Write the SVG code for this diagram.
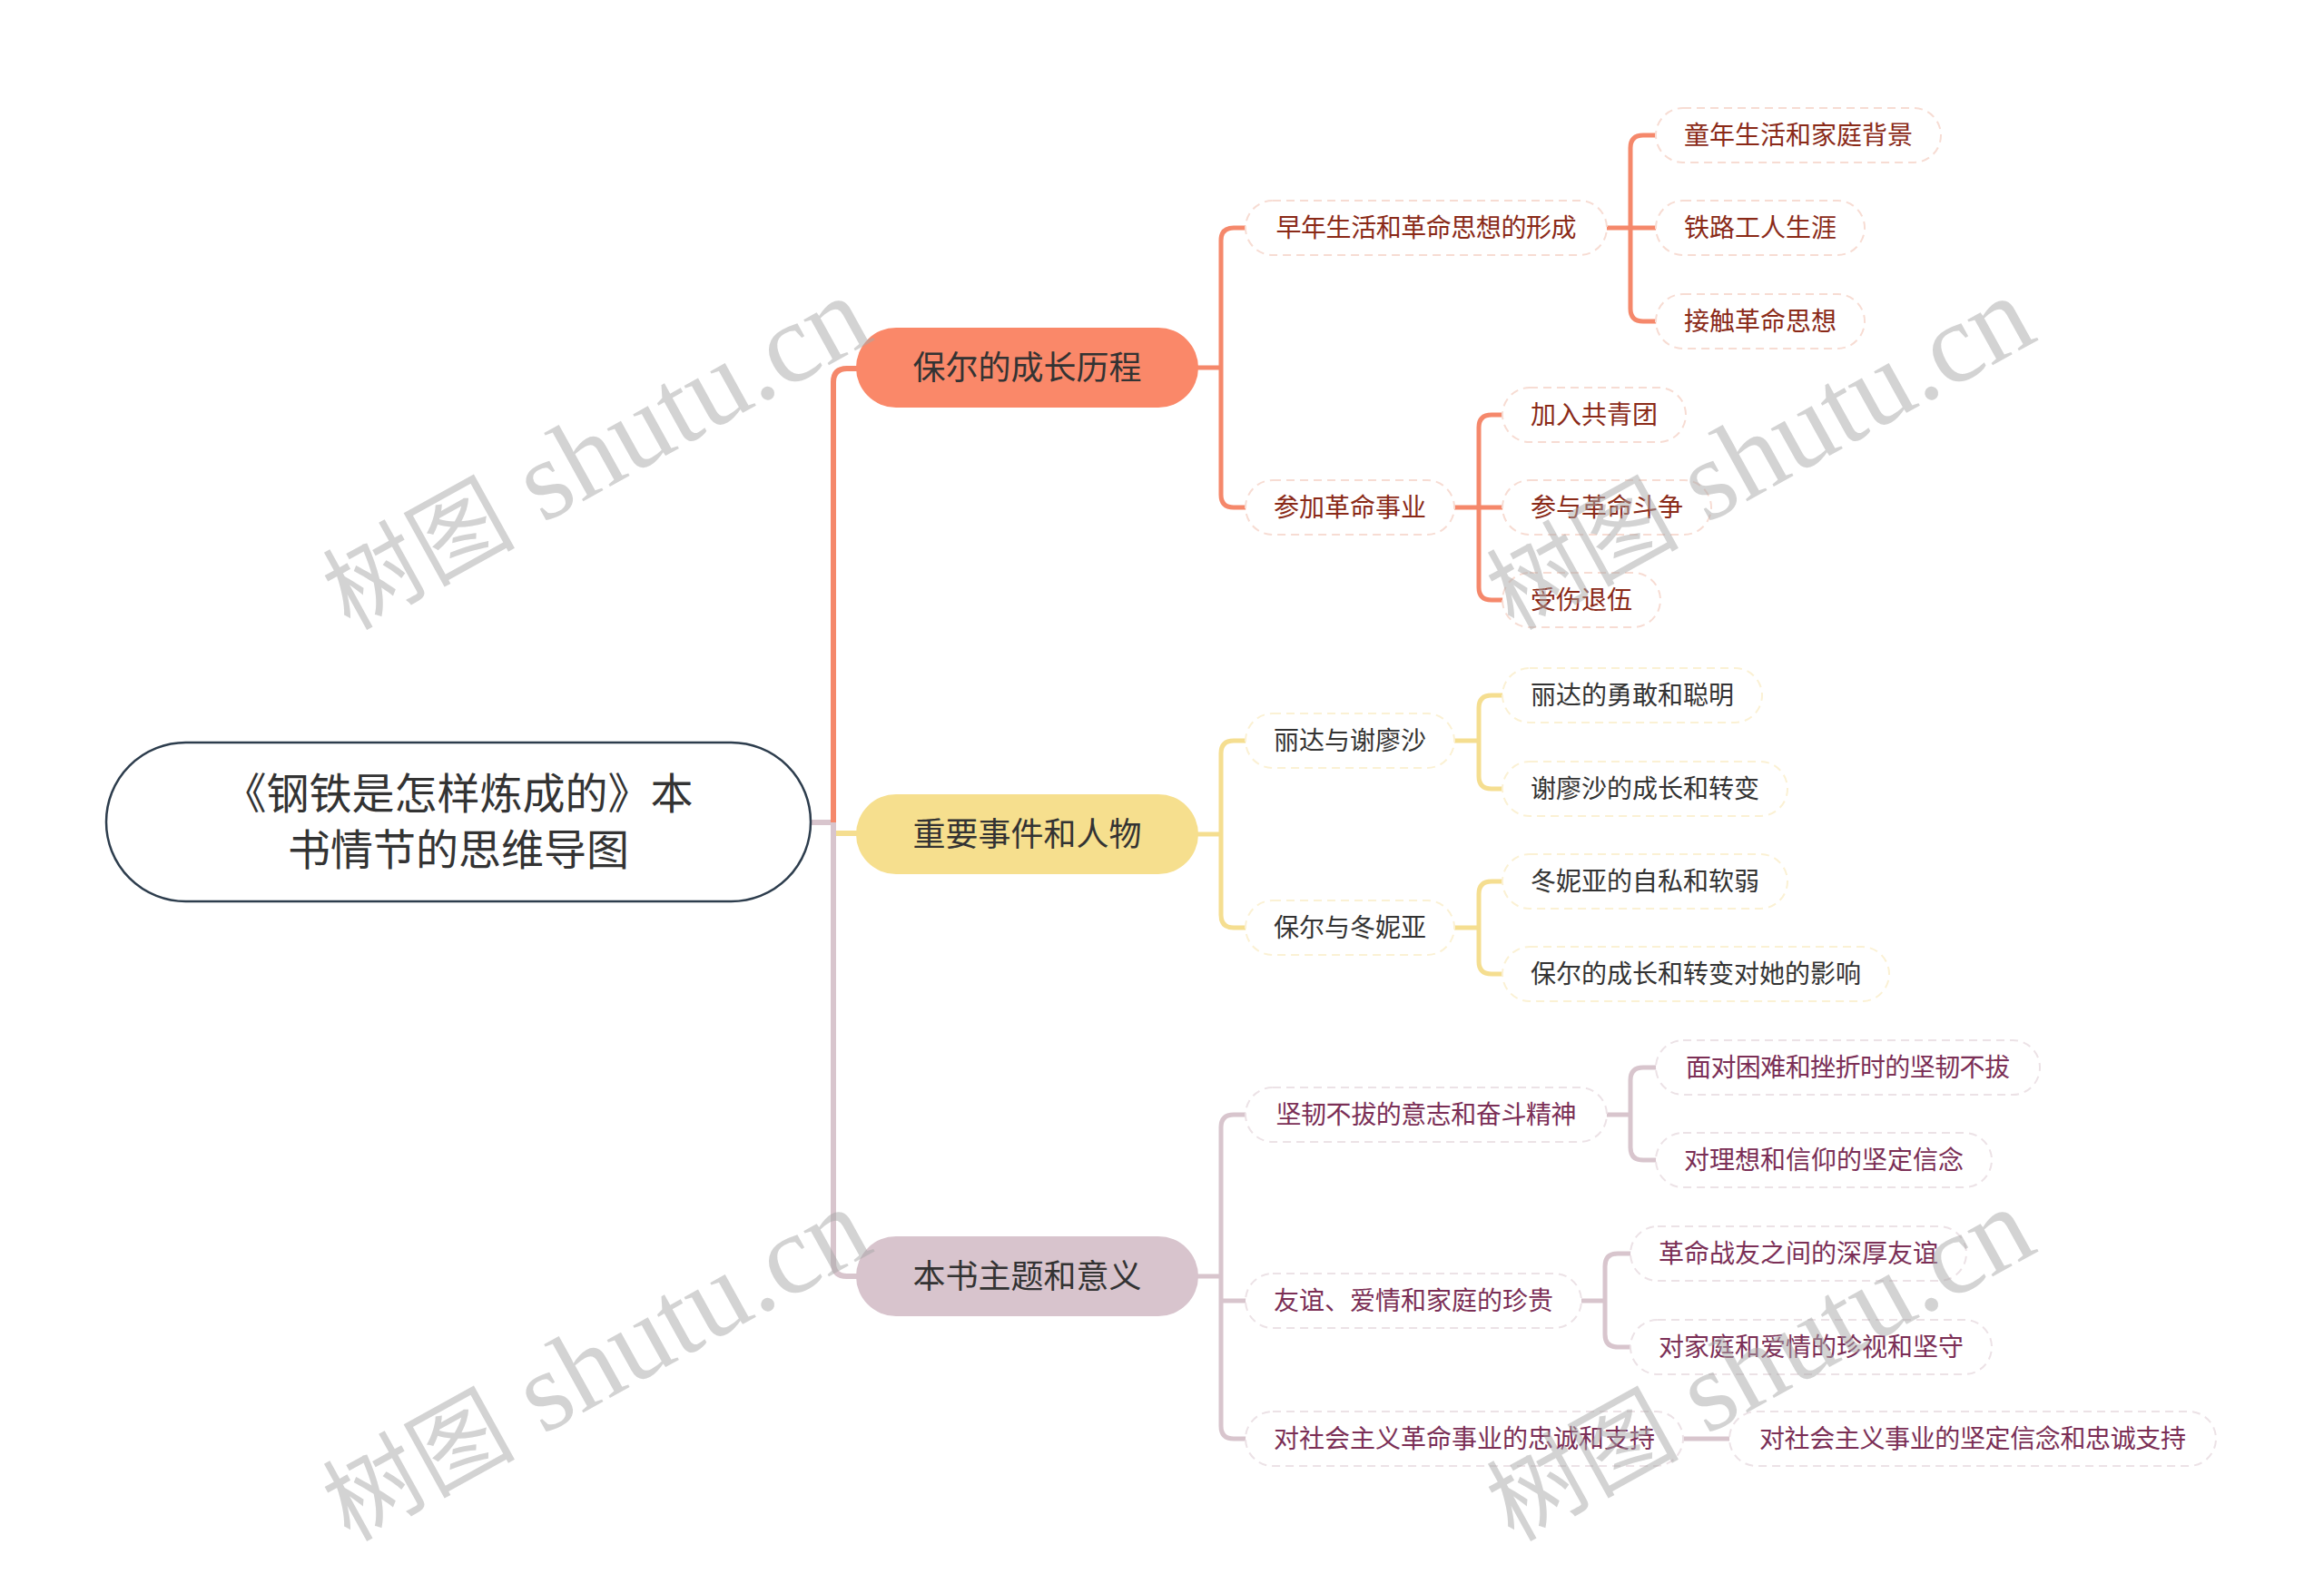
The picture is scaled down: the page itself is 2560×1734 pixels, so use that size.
<svg xmlns="http://www.w3.org/2000/svg" width="2560" height="1734" viewBox="0 0 2560 1734">
<defs>
<style>
text{font-family:'Liberation Sans','Noto Sans CJK SC',sans-serif;}
.root rect{fill:#fff;stroke:#2d3d4d;stroke-width:2.5}
.root text{font-size:47px;fill:#333;text-anchor:middle}
.l1 rect{stroke:none}
.l1 text{font-size:36px;fill:#333;text-anchor:middle}
.c1 rect{fill:#fa8869}
.c2 rect{fill:#f6df8e}
.c3 rect{fill:#d8c4cd}
.sub rect{fill:#fff;stroke-width:2;stroke-dasharray:9 6}
.sub text{font-size:28px;text-anchor:middle}
.s1 rect{stroke:#f7dcd3}
.s1 text{fill:#8a2a18}
.s2 rect{stroke:#fbf1d4}
.s2 text{fill:#333}
.s3 rect{stroke:#ece2e6}
.s3 text{fill:#7b2f56}
.conn path{fill:none;stroke-linecap:butt}
.k1{stroke:#f5886b}
.k2{stroke:#f5de90}
.k3{stroke:#d8c5cd}
text.wm{font-family:'Liberation Serif','Noto Sans CJK SC',serif;fill:#a8a8a8;opacity:0.5}
</style>
</defs>
<rect width="2560" height="1734" fill="#fff"/>
<g id="connectors" class="conn">
  <path class="k3" stroke-width="6" d="M893 906 H918"/>
  <path class="k1" stroke-width="6" d="M918 906 V421 Q918 406 933 406 H945"/>
  <path class="k2" stroke-width="6" d="M918 918 H945"/>
  <path class="k3" stroke-width="6" d="M918 906 V1391 Q918 1406 933 1406 H945"/>
  <path class="k1" stroke-width="5" d="M1318 405 H1345"/>
  <path class="k1" stroke-width="5" d="M1373 251 H1359 Q1345 251 1345 265 V545 Q1345 559 1359 559 H1373"/>
  <path class="k2" stroke-width="5" d="M1318 919 H1345"/>
  <path class="k2" stroke-width="5" d="M1373 816 H1359 Q1345 816 1345 830 V1008 Q1345 1022 1359 1022 H1373"/>
  <path class="k3" stroke-width="5" d="M1318 1406 H1345"/>
  <path class="k3" stroke-width="5" d="M1373 1228 H1359 Q1345 1228 1345 1242 V1571 Q1345 1585 1359 1585 H1373"/>
  <path class="k3" stroke-width="5" d="M1345 1433 H1373"/>
  <path class="k1" stroke-width="5" d="M1770 251 H1825"/>
  <path class="k1" stroke-width="5" d="M1825 149 H1810 Q1796 149 1796 163 V340 Q1796 354 1810 354 H1825"/>
  <path class="k1" stroke-width="5" d="M1602 559 H1656"/>
  <path class="k1" stroke-width="5" d="M1656 457 H1643 Q1629 457 1629 471 V647 Q1629 661 1643 661 H1656"/>
  <path class="k2" stroke-width="5" d="M1602 816 H1629"/>
  <path class="k2" stroke-width="5" d="M1656 766 H1643 Q1629 766 1629 780 V855 Q1629 869 1643 869 H1656"/>
  <path class="k2" stroke-width="5" d="M1602 1022 H1629"/>
  <path class="k2" stroke-width="5" d="M1656 971 H1643 Q1629 971 1629 985 V1059 Q1629 1073 1643 1073 H1656"/>
  <path class="k3" stroke-width="5" d="M1770 1228 H1796"/>
  <path class="k3" stroke-width="5" d="M1825 1176 H1810 Q1796 1176 1796 1190 V1264 Q1796 1278 1810 1278 H1825"/>
  <path class="k3" stroke-width="5" d="M1742 1433 H1768"/>
  <path class="k3" stroke-width="5" d="M1797 1381 H1782 Q1768 1381 1768 1395 V1470 Q1768 1484 1782 1484 H1797"/>
  <path class="k3" stroke-width="5" d="M1854 1585 H1905"/>
</g>
<g id="root" class="root">
  <rect x="117" y="818" width="776" height="175" rx="87.5"/>
  <text x="505" y="891">《钢铁是怎样炼成的》本</text>
  <text x="505" y="953">书情节的思维导图</text>
</g>
<g id="n-baoer" class="l1 c1"><rect x="943" y="361" width="377" height="88" rx="44"/><text x="1131.5" y="418">保尔的成长历程</text></g>
<g id="n-zhongyao" class="l1 c2"><rect x="943" y="875" width="377" height="88" rx="44"/><text x="1131.5" y="932">重要事件和人物</text></g>
<g id="n-benshu" class="l1 c3"><rect x="943" y="1362" width="377" height="88" rx="44"/><text x="1131.5" y="1419">本书主题和意义</text></g>

<g id="n-zaonian" class="sub s1"><rect x="1372" y="221" width="398" height="60" rx="30"/><text x="1571" y="261" textLength="331" lengthAdjust="spacing">早年生活和革命思想的形成</text></g>
<g id="n-tongnian" class="sub s1"><rect x="1824" y="119" width="314" height="60" rx="30"/><text x="1981" y="159">童年生活和家庭背景</text></g>
<g id="n-tielu" class="sub s1"><rect x="1824" y="221" width="230" height="60" rx="30"/><text x="1939" y="261">铁路工人生涯</text></g>
<g id="n-jiechu" class="sub s1"><rect x="1824" y="324" width="230" height="60" rx="30"/><text x="1939" y="364">接触革命思想</text></g>
<g id="n-canjia" class="sub s1"><rect x="1372" y="529" width="230" height="60" rx="30"/><text x="1487" y="569">参加革命事业</text></g>
<g id="n-jiaru" class="sub s1"><rect x="1655" y="427" width="202" height="60" rx="30"/><text x="1756" y="467">加入共青团</text></g>
<g id="n-canyu" class="sub s1"><rect x="1655" y="529" width="230" height="60" rx="30"/><text x="1770" y="569">参与革命斗争</text></g>
<g id="n-shoushang" class="sub s1"><rect x="1655" y="631" width="174" height="60" rx="30"/><text x="1742" y="671">受伤退伍</text></g>

<g id="n-lida" class="sub s2"><rect x="1372" y="786" width="230" height="60" rx="30"/><text x="1487" y="826">丽达与谢廖沙</text></g>
<g id="n-lida1" class="sub s2"><rect x="1655" y="736" width="286" height="60" rx="30"/><text x="1798" y="776">丽达的勇敢和聪明</text></g>
<g id="n-lida2" class="sub s2"><rect x="1655" y="839" width="314" height="60" rx="30"/><text x="1812" y="879">谢廖沙的成长和转变</text></g>
<g id="n-dongniya" class="sub s2"><rect x="1372" y="992" width="230" height="60" rx="30"/><text x="1487" y="1032">保尔与冬妮亚</text></g>
<g id="n-dny1" class="sub s2"><rect x="1655" y="941" width="314" height="60" rx="30"/><text x="1812" y="981">冬妮亚的自私和软弱</text></g>
<g id="n-dny2" class="sub s2"><rect x="1655" y="1043" width="426" height="60" rx="30"/><text x="1868" y="1083">保尔的成长和转变对她的影响</text></g>

<g id="n-jianren" class="sub s3"><rect x="1372" y="1198" width="398" height="60" rx="30"/><text x="1571" y="1238" textLength="331" lengthAdjust="spacing">坚韧不拔的意志和奋斗精神</text></g>
<g id="n-jr1" class="sub s3"><rect x="1824" y="1146" width="423" height="60" rx="30"/><text x="2035.5" y="1186" textLength="357" lengthAdjust="spacing">面对困难和挫折时的坚韧不拔</text></g>
<g id="n-jr2" class="sub s3"><rect x="1824" y="1248" width="370" height="60" rx="30"/><text x="2009" y="1288">对理想和信仰的坚定信念</text></g>
<g id="n-youyi" class="sub s3"><rect x="1372" y="1403" width="370" height="60" rx="30"/><text x="1557" y="1443">友谊、爱情和家庭的珍贵</text></g>
<g id="n-yy1" class="sub s3"><rect x="1796" y="1351" width="370" height="60" rx="30"/><text x="1981" y="1391">革命战友之间的深厚友谊</text></g>
<g id="n-yy2" class="sub s3"><rect x="1796" y="1454" width="398" height="60" rx="30"/><text x="1995" y="1494">对家庭和爱情的珍视和坚守</text></g>
<g id="n-zhongcheng" class="sub s3"><rect x="1372" y="1555" width="482" height="60" rx="30"/><text x="1613" y="1595">对社会主义革命事业的忠诚和支持</text></g>
<g id="n-zc1" class="sub s3"><rect x="1905" y="1555" width="536" height="60" rx="30"/><text x="2173" y="1595" textLength="470" lengthAdjust="spacing">对社会主义事业的坚定信念和忠诚支持</text></g>

<g id="watermarks">
  <text class="wm" transform="translate(385 695) rotate(-29)" font-size="106">树图<tspan font-size="125"> shutu.cn</tspan></text>
  <text class="wm" transform="translate(1667 695) rotate(-29)" font-size="106">树图<tspan font-size="125"> shutu.cn</tspan></text>
  <text class="wm" transform="translate(385 1699) rotate(-29)" font-size="106">树图<tspan font-size="125"> shutu.cn</tspan></text>
  <text class="wm" transform="translate(1667 1699) rotate(-29)" font-size="106">树图<tspan font-size="125"> shutu.cn</tspan></text>
</g>
</svg>
